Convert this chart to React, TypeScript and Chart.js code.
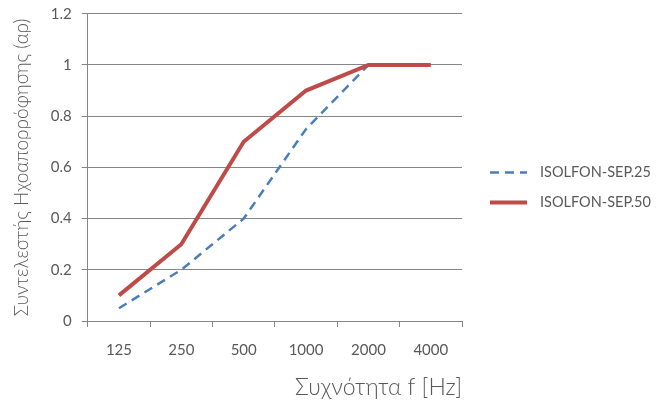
import React, { useEffect, useRef } from "react";
import { Chart, registerables } from "chart.js";

Chart.register(...registerables);

const categories = ["125", "250", "500", "1000", "2000", "4000"];
const sep25 = [0.05, 0.2, 0.4, 0.75, 1.0, null];
const sep50 = [0.1, 0.3, 0.7, 0.9, 1.0, 1.0];
const seriesNames = ["ISOLFON-SEP.25", "ISOLFON-SEP.50"];
const yTitle = "Συντελεστής Ηχοαπορρόφησης (αρ)";
const xTitle = "Συχνότητα f [Hz]";

const FONT = "Lato, 'Open Sans', sans-serif";
const TEXT = "#595959";
const GRID = "#868686";

const sideLegend = {
  id: "sideLegend",
  afterDraw(chart: any) {
    const ctx = chart.ctx;
    const area = chart.chartArea;
    const x0 = area.right + 28;
    const lineLen = 37;
    const gap = 30;
    const cy = chart.height / 2 - 13;
    const datasets = chart.data.datasets;
    ctx.save();
    datasets.forEach((ds: any, i: number) => {
      const y = cy + (i - (datasets.length - 1) / 2) * gap;
      ctx.beginPath();
      ctx.strokeStyle = ds.borderColor;
      ctx.lineWidth = ds.borderWidth;
      ctx.setLineDash(ds.borderDash || []);
      ctx.moveTo(x0, y);
      ctx.lineTo(x0 + lineLen, y);
      ctx.stroke();
      ctx.setLineDash([]);
      ctx.fillStyle = TEXT;
      ctx.font = `14.5px ${FONT}`;
      ctx.textBaseline = "middle";
      ctx.textAlign = "left";
      ctx.fillText(ds.label, x0 + lineLen + 13, y);
    });
    ctx.restore();
  },
};

export default function App() {
  const ref = useRef<HTMLCanvasElement>(null);
  useEffect(() => {
    if (!ref.current) return;
    const chart = new Chart(ref.current, {
      type: "line",
      data: {
        labels: categories,
        datasets: [
          {
            label: seriesNames[0],
            data: sep25,
            borderColor: "#4A7EBB",
            backgroundColor: "#4A7EBB",
            borderWidth: 2.5,
            borderDash: [9, 6],
            pointRadius: 0,
            tension: 0,
            order: 1,
          },
          {
            label: seriesNames[1],
            data: sep50,
            borderColor: "#BE4B48",
            backgroundColor: "#BE4B48",
            borderWidth: 4,
            pointRadius: 0,
            tension: 0,
            order: 0,
          },
        ],
      },
      options: {
        animation: false,
        responsive: true,
        maintainAspectRatio: false,
        layout: { padding: { left: 10, top: 0, right: 202, bottom: 2 } },
        plugins: {
          tooltip: { enabled: false },
          legend: { display: false },
        },
        scales: {
          x: {
            offset: true,
            grid: {
              offset: true,
              drawOnChartArea: false,
              drawTicks: true,
              tickLength: 6,
              color: GRID,
            },
            border: { color: GRID },
            ticks: { color: TEXT, font: { family: FONT, size: 15 }, padding: 14 },
            title: {
              display: true,
              text: xTitle,
              align: "end",
              color: TEXT,
              font: { family: FONT, size: 23, weight: "300", lineHeight: 1 },
              padding: { top: 3, bottom: 0 },
            },
          },
          y: {
            min: 0,
            max: 1.2,
            ticks: {
              stepSize: 0.2,
              color: TEXT,
              font: { family: FONT, size: 15, lineHeight: 0.5 },
              padding: 10,
              callback: (v: any) => String(Math.round(Number(v) * 10) / 10),
            },
            grid: { color: GRID, tickLength: 6 },
            border: { color: GRID },
            title: {
              display: true,
              text: yTitle,
              color: TEXT,
              font: { family: FONT, size: 19, weight: "300" },
              padding: { top: 0, bottom: 8 },
            },
          },
        },
      },
      plugins: [sideLegend],
    });
    return () => chart.destroy();
  }, []);
  return (
    <div style={{ position: "fixed", left: 0, top: 0, width: 664, height: 401, background: "#fff" }}>
      <canvas ref={ref} />
    </div>
  );
}
